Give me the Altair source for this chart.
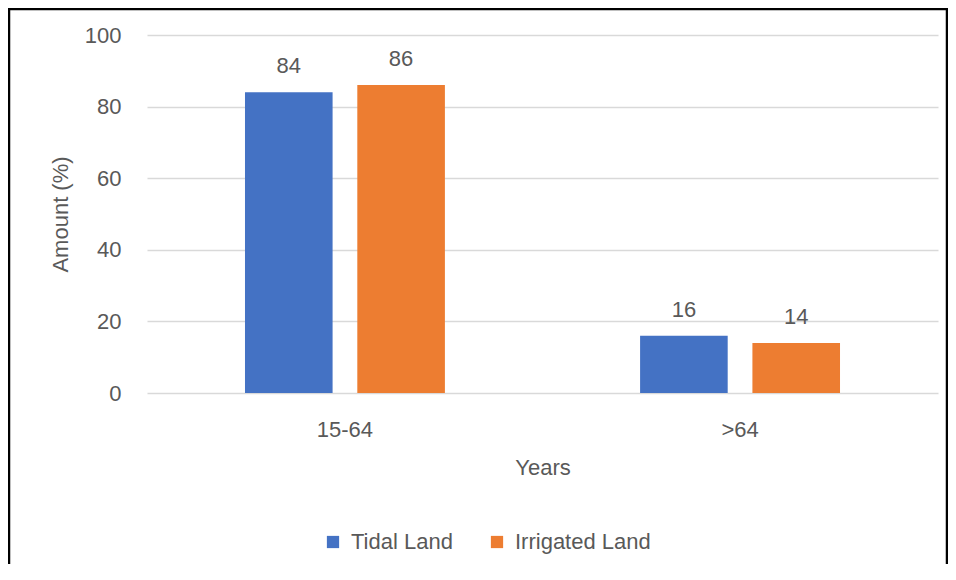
import altair as alt
import pandas as pd

categories = ["15-64", ">64"]
series = ["Tidal Land", "Irrigated Land"]
tidal = [84, 16]
irrigated = [86, 14]
colors = ["#4472C4", "#ED7D31"]
y_ticks = [0, 20, 40, 60, 80, 100]

rows = []
for i, c in enumerate(categories):
    rows.append({"Years": c, "Series": series[0], "Amount": tidal[i]})
    rows.append({"Years": c, "Series": series[1], "Amount": irrigated[i]})
df = pd.DataFrame(rows)

FONT = "Liberation Sans"
GREY = "#595959"

x_enc = alt.X("Years:N", sort=categories,
              scale=alt.Scale(paddingInner=0.494, paddingOuter=0.248),
              axis=alt.Axis(title="Years", labelAngle=0, domain=False, ticks=False,
                            labelPadding=26, titlePadding=17))
xoff = alt.XOffset("Series:N", sort=series,
                   scale=alt.Scale(paddingInner=0.22, paddingOuter=0))
y_enc = alt.Y("Amount:Q", scale=alt.Scale(domain=[0, 100]),
              axis=alt.Axis(title="Amount (%)", values=y_ticks, domain=False, ticks=False,
                            labelPadding=26, titlePadding=12, gridColor="#d9d9d9",
                            gridWidth=1.5))

base = alt.Chart(df)

bars = base.mark_bar().encode(
    x=x_enc, xOffset=xoff, y=y_enc,
    color=alt.Color("Series:N", sort=series,
                    scale=alt.Scale(domain=series, range=colors),
                    legend=alt.Legend(title=None, orient="none", direction="horizontal",
                                      legendX=175, legendY=496, symbolType="square",
                                      symbolSize=150, symbolStrokeWidth=0,
                                      labelOffset=7, columnPadding=33, padding=0,
                                      labelFontSize=22, labelColor=GREY, labelFont=FONT)),
)

labels = base.mark_text(baseline="alphabetic", dy=-19, fontSize=22, color=GREY, font=FONT).encode(
    x=alt.X("Years:N", sort=categories), xOffset=alt.XOffset("Series:N", sort=series),
    y="Amount:Q", text="Amount:Q",
)

border = alt.Chart(alt.Data(values=[{"a": 1}])).mark_rect(
    fill=None, stroke="black", strokeWidth=2.5
).encode(
    x=alt.value(-138), x2=alt.value(800), y=alt.value(-26), y2=alt.value(600),
)

chart = alt.layer(bars, labels, border).properties(
    width=791, height=358,
    autosize=alt.AutoSizeParams(type="none"),
    padding={"left": 139, "top": 27, "right": 10, "bottom": 171},
    background="white",
).configure_view(stroke=None).configure_axis(
    labelFont=FONT, titleFont=FONT, labelFontSize=22, titleFontSize=22,
    labelColor=GREY, titleColor=GREY, titleFontWeight="normal",
)

chart.save("out.html", embed_options={"renderer": "svg", "actions": False})
